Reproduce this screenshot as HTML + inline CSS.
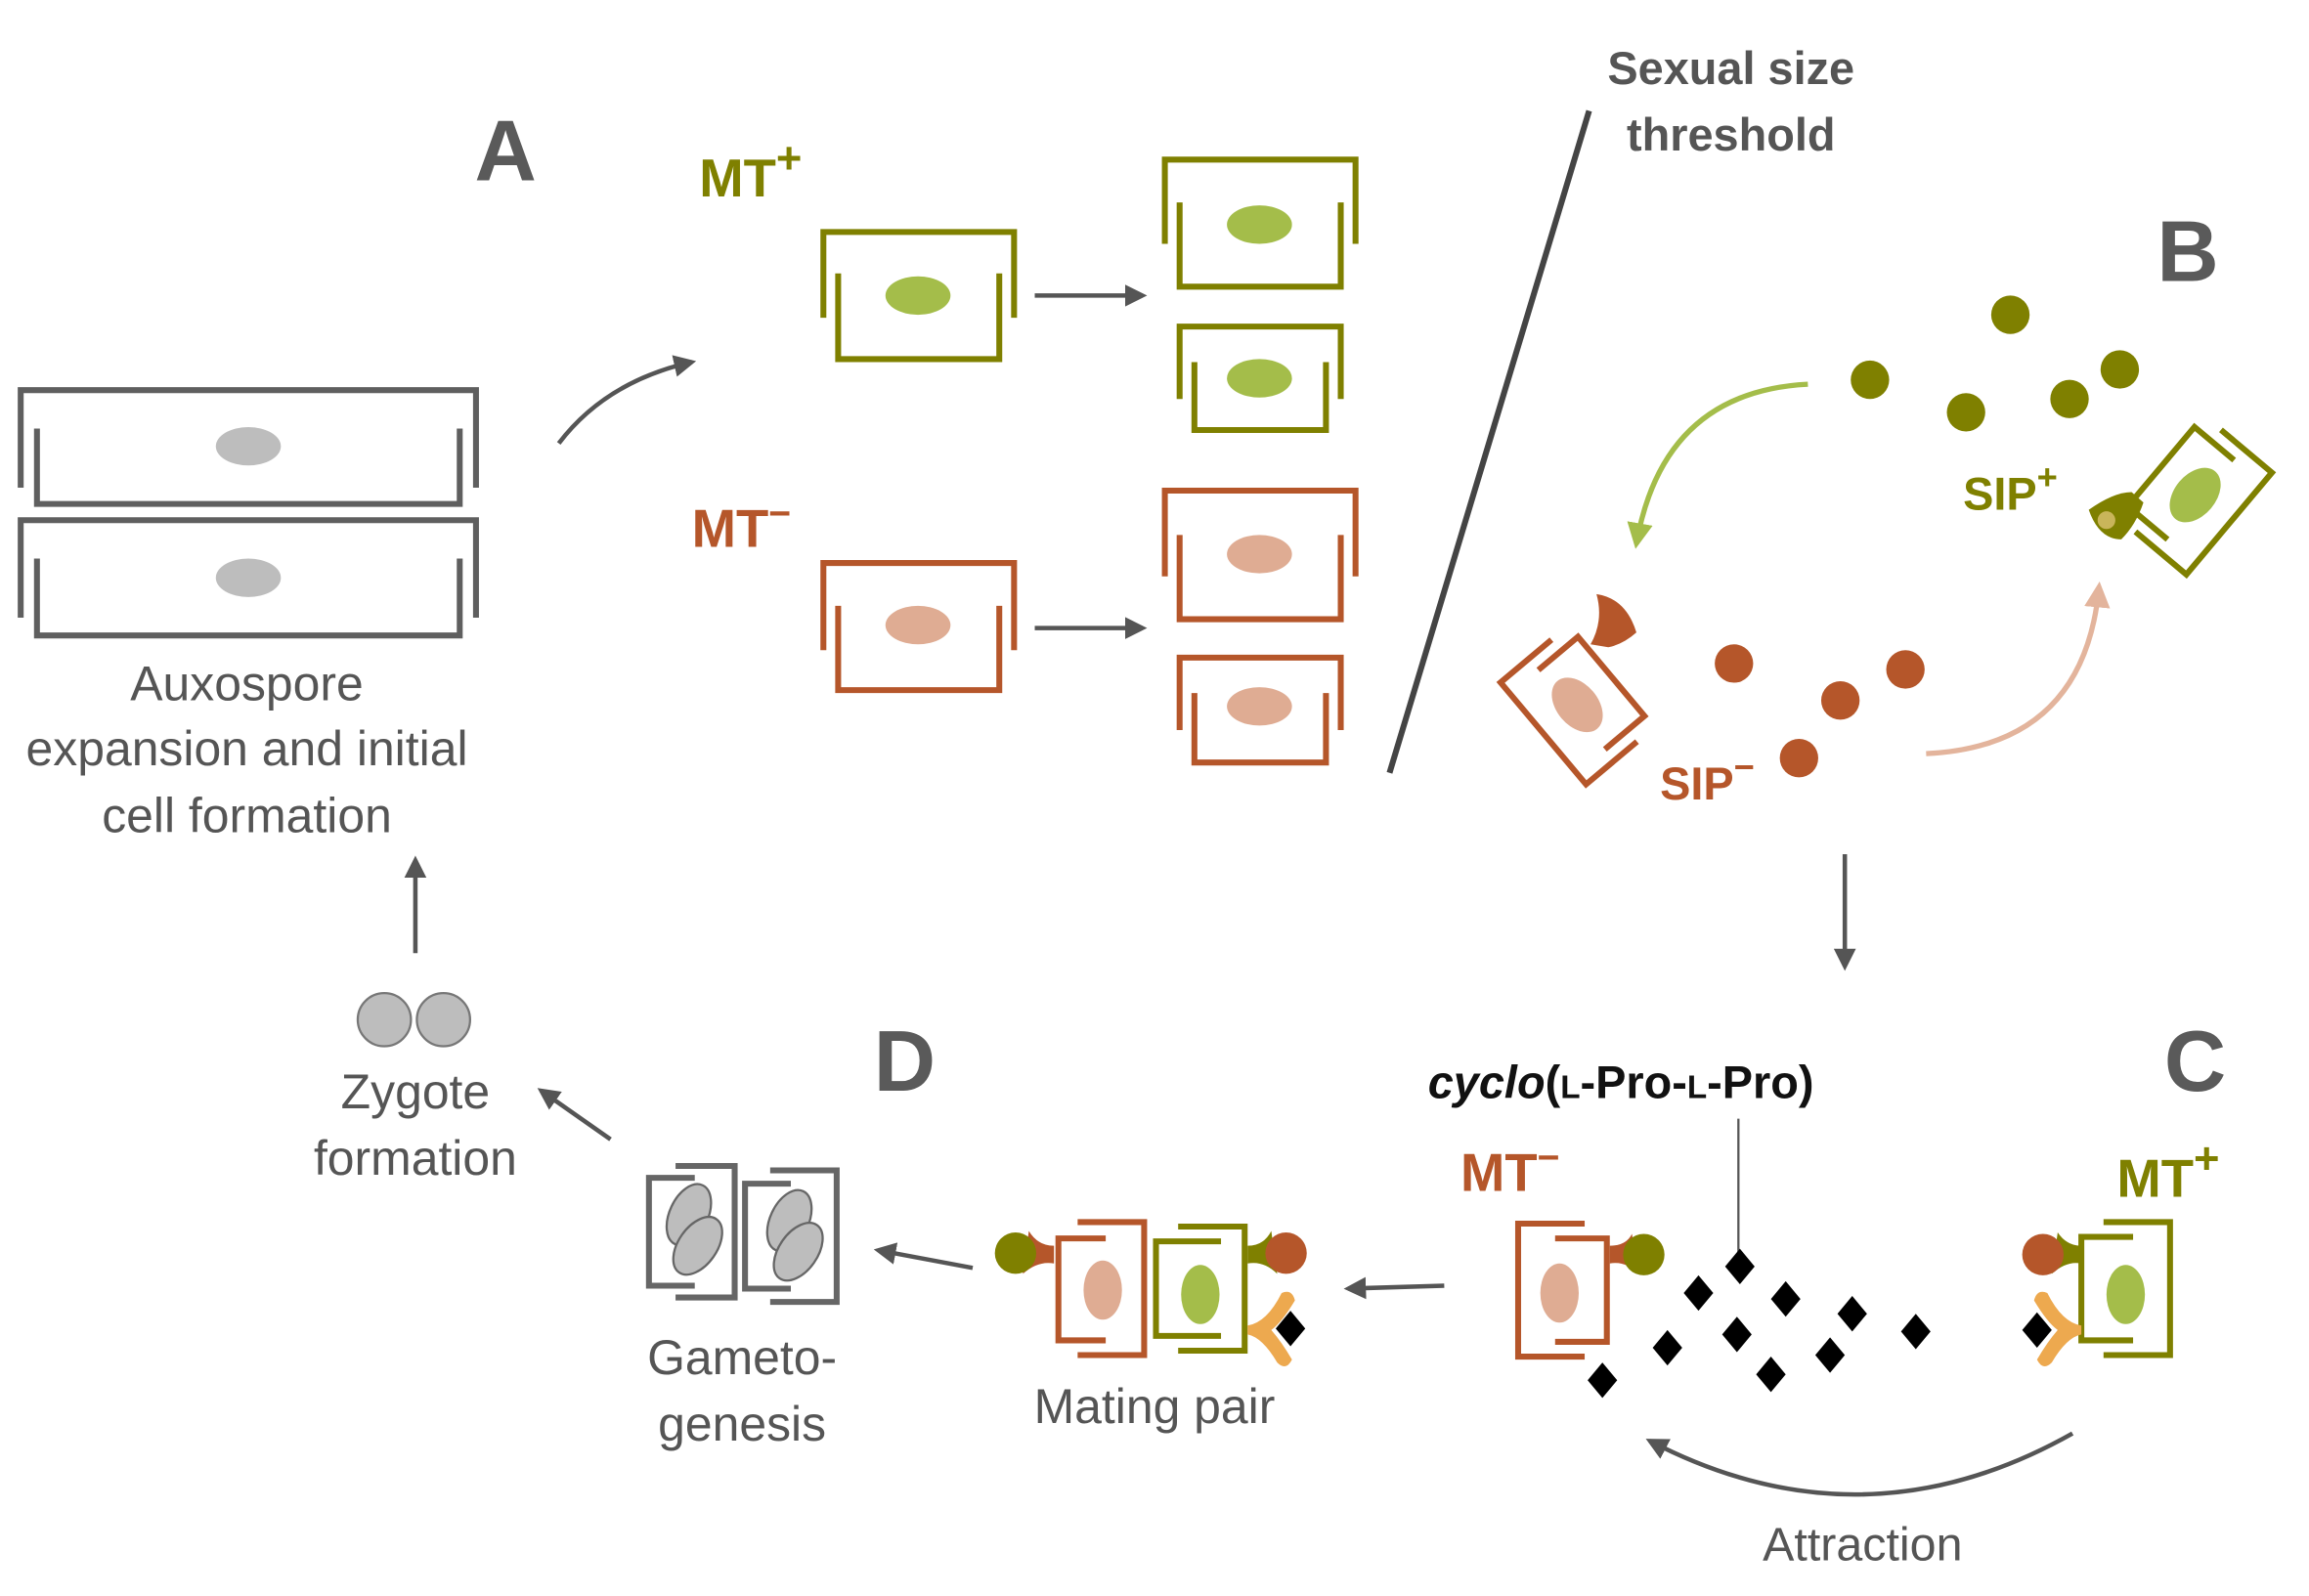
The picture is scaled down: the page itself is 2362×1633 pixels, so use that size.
<!DOCTYPE html>
<html><head><meta charset="utf-8"><style>
html,body{margin:0;padding:0;background:#fff;}
svg{display:block;}
text{font-family:"Liberation Sans",sans-serif;}
</style></head><body>
<svg width="2362" height="1633" viewBox="0 0 1562 1080" preserveAspectRatio="none" xmlns="http://www.w3.org/2000/svg">
<defs>
<marker id="ah" viewBox="0 0 10 10" refX="8" refY="5" markerWidth="5" markerHeight="5" orient="auto"><path d="M0,0 L10,5 L0,10z" fill="#555"/></marker>
<marker id="ahg" viewBox="0 0 10 10" refX="8" refY="5" markerWidth="5" markerHeight="5" orient="auto"><path d="M0,0 L10,5 L0,10z" fill="#a4bd4a"/></marker>
<marker id="ahp" viewBox="0 0 10 10" refX="8" refY="5" markerWidth="5" markerHeight="5" orient="auto"><path d="M0,0 L10,5 L0,10z" fill="#e3b49c"/></marker>
<g id="vcell" fill="none" stroke-width="4">
<path d="M15,-45 H-30 V45 H15"/><path d="M-5,-35 H30 V35 H-5"/>
</g>
<path id="dia" d="M0,-12 L10,0 L0,12 L-10,0z" fill="#000"/>
</defs>

<!-- Auxospore -->
<g fill="none" stroke="#5f5f5f" stroke-width="4">
<path d="M14,330 V264 H322 V330"/><path d="M25,290 V341 H311 V290"/>
<path d="M14,418 V352 H322 V418"/><path d="M25,378 V430 H311 V378"/>
</g>
<ellipse cx="168" cy="302" rx="22" ry="13" fill="#bdbdbd"/>
<ellipse cx="168" cy="391" rx="22" ry="13" fill="#bdbdbd"/>
<g font-size="33" fill="#555" text-anchor="middle">
<text x="167" y="474">Auxospore</text>
<text x="167" y="518">expansion and initial</text>
<text x="167" y="563">cell formation</text>
</g>

<text x="342" y="122" font-size="58" font-weight="bold" fill="#5a5a5a" text-anchor="middle">A</text>
<text x="1480" y="190" font-size="58" font-weight="bold" fill="#5a5a5a" text-anchor="middle">B</text>
<text x="1485" y="738" font-size="58" font-weight="bold" fill="#5a5a5a" text-anchor="middle">C</text>
<text x="612" y="738" font-size="58" font-weight="bold" fill="#5a5a5a" text-anchor="middle">D</text>

<!-- arrows -->
<g stroke="#555" stroke-width="3" fill="none" marker-end="url(#ah)">
<path d="M378,300 Q410,258 468,245"/>
<path d="M700,200 H773"/><path d="M700,425 H773"/>
<path d="M1248,578 V654"/>
<path d="M977,870 L912,872"/>
<path d="M658,858 L594,846"/>
<path d="M413,771 L366,738"/>
<path d="M281,645 V582"/>
<path d="M1402,970 Q1260,1050 1116,975"/>
</g>
<path d="M1223,260 Q1125,265 1107,368" stroke="#a4bd4a" stroke-width="3.5" fill="none" marker-end="url(#ahg)"/>
<path d="M1303,510 Q1410,505 1420,397" stroke="#e3b49c" stroke-width="3.5" fill="none" marker-end="url(#ahp)"/>

<line x1="1075" y1="75" x2="940" y2="523" stroke="#444" stroke-width="4"/>
<g font-size="31" fill="#555" text-anchor="middle" font-weight="bold">
<text x="1171" y="57">Sexual size</text>
<text x="1171" y="102">threshold</text>
</g>

<!-- A cells -->
<g fill="none" stroke="#7f8000" stroke-width="4">
<path d="M557,215 V157 H686 V215"/><path d="M567,185 V243 H676 V185"/>
<path d="M788,165 V108 H917 V165"/><path d="M798,137 V194 H907 V137"/>
<path d="M798,270 V221 H907 V270"/><path d="M808,245 V291 H897 V245"/>
</g>
<g fill="#a4bd4a">
<ellipse cx="621" cy="200" rx="22" ry="13"/><ellipse cx="852" cy="152" rx="22" ry="13"/><ellipse cx="852" cy="256" rx="22" ry="13"/>
</g>
<g fill="none" stroke="#b5562a" stroke-width="4">
<path d="M557,440 V381 H686 V440"/><path d="M567,410 V467 H676 V410"/>
<path d="M788,390 V332 H917 V390"/><path d="M798,362 V419 H907 V362"/>
<path d="M798,494 V445 H907 V494"/><path d="M808,469 V516 H897 V469"/>
</g>
<g fill="#dfac93">
<ellipse cx="621" cy="423" rx="22" ry="13"/><ellipse cx="852" cy="375" rx="22" ry="13"/><ellipse cx="852" cy="478" rx="22" ry="13"/>
</g>
<text x="473" y="133" font-size="36" font-weight="bold" fill="#7f8000">MT<tspan dy="-16" font-size="30">+</tspan></text>
<text x="468" y="370" font-size="36" font-weight="bold" fill="#b5562a">MT<tspan dy="-14" font-size="26">−</tspan></text>

<!-- B -->
<g fill="#7f8000">
<circle cx="1265" cy="257" r="13"/><circle cx="1360" cy="213" r="13"/><circle cx="1330" cy="279" r="13"/><circle cx="1400" cy="270" r="13"/><circle cx="1434" cy="250" r="13"/>
</g>
<g fill="#b5562a">
<circle cx="1173" cy="449" r="13"/><circle cx="1245" cy="474" r="13"/><circle cx="1289" cy="453" r="13"/><circle cx="1217" cy="513" r="13"/>
</g>
<g transform="translate(1067,477) rotate(-40)">
<use href="#vcell" stroke="#b5562a"/>
<ellipse cx="0" cy="0" rx="14" ry="21" fill="#dfac93"/>
</g>
<path d="M1076,436 Q1085,420 1080,402 Q1100,405 1107,428 Q1098,436 1088,438z" fill="#b5562a"/>
<g transform="translate(1485,335) rotate(40) scale(-1,1)">
<use href="#vcell" stroke="#7f8000"/>
<ellipse cx="0" cy="0" rx="14" ry="21" fill="#a4bd4a"/>
</g>
<path d="M1442,333 Q1430,333 1413,345 Q1420,365 1435,365 Q1445,355 1450,340z" fill="#7f8000"/>
<circle cx="1425" cy="352" r="6" fill="#c9b55a"/>
<text x="1328" y="345" font-size="31" font-weight="bold" fill="#7f8000">SIP<tspan dy="-14" font-size="24">+</tspan></text>
<text x="1123" y="541" font-size="31" font-weight="bold" fill="#b5562a">SIP<tspan dy="-14" font-size="24">−</tspan></text>

<!-- C -->
<text x="966" y="743" font-size="31" font-weight="bold" fill="#111"><tspan font-style="italic">cyclo</tspan>(<tspan font-size="22">L</tspan>-Pro-<tspan font-size="22">L</tspan>-Pro)</text>
<line x1="1176" y1="757" x2="1176" y2="848" stroke="#555" stroke-width="1.5"/>
<text x="988" y="806" font-size="36" font-weight="bold" fill="#b5562a">MT<tspan dy="-14" font-size="26">−</tspan></text>
<text x="1432" y="810" font-size="36" font-weight="bold" fill="#7f8000">MT<tspan dy="-16" font-size="30">+</tspan></text>
<g transform="translate(1057,873)"><use href="#vcell" stroke="#b5562a"/></g>
<ellipse cx="1055" cy="875" rx="13" ry="20" fill="#dfac93"/>
<path d="M1089,843 Q1100,843 1104,835 L1108,862 Q1100,853 1089,855z" fill="#b5562a"/>
<circle cx="1112" cy="849" r="14" fill="#7f8000"/>
<g transform="translate(1438,872) scale(-1,1)"><use href="#vcell" stroke="#7f8000"/></g>
<ellipse cx="1438" cy="876" rx="13" ry="20" fill="#a4bd4a"/>
<path d="M1408,843 Q1398,843 1392,834 L1388,862 Q1398,853 1408,855z" fill="#7f8000"/>
<circle cx="1382" cy="849" r="14" fill="#b5562a"/>
<path d="M1408,897 Q1395,895 1385,875 Q1378,872 1376,880 Q1385,895 1392,900 Q1385,908 1378,920 Q1382,928 1388,922 Q1398,905 1408,903z" fill="#eda94f"/>
<g>
<use href="#dia" x="1177" y="857"/><use href="#dia" x="1149" y="875"/><use href="#dia" x="1208" y="879"/><use href="#dia" x="1253" y="889"/><use href="#dia" x="1296" y="901"/><use href="#dia" x="1175" y="903"/><use href="#dia" x="1128" y="912"/><use href="#dia" x="1238" y="917"/><use href="#dia" x="1198" y="930"/><use href="#dia" x="1084" y="934"/><use href="#dia" x="1378" y="900"/>
</g>
<text x="1260" y="1056" font-size="32" fill="#555" text-anchor="middle">Attraction</text>

<!-- Mating pair -->
<g fill="none" stroke-width="4">
<path d="M729,827 H774 V917 H729" stroke="#b5562a"/><path d="M748,838 H716 V907 H748" stroke="#b5562a"/>
<path d="M797,830 H842 V914 H797" stroke="#7f8000"/><path d="M826,840 H782 V904 H826" stroke="#7f8000"/>
</g>
<ellipse cx="746" cy="873" rx="13" ry="20" fill="#dfac93"/>
<ellipse cx="812" cy="876" rx="13" ry="20" fill="#a4bd4a"/>
<path d="M713,843 Q702,843 696,833 L692,862 Q702,853 713,855z" fill="#b5562a"/>
<circle cx="687" cy="848" r="14" fill="#7f8000"/>
<path d="M844,843 Q855,843 860,833 L864,862 Q855,853 844,855z" fill="#7f8000"/>
<circle cx="870" cy="848" r="14" fill="#b5562a"/>
<path d="M844,897 Q857,895 867,875 Q874,872 876,880 Q867,895 860,900 Q867,908 874,920 Q870,928 864,922 Q854,905 844,903z" fill="#eda94f"/>
<use href="#dia" x="873" y="899"/>
<text x="781" y="963" font-size="33" fill="#555" text-anchor="middle">Mating pair</text>

<!-- Gametogenesis -->
<g fill="none" stroke="#666" stroke-width="4">
<path d="M457,789 H497 V878 H457"/><path d="M470,797 H439 V870 H470"/>
<path d="M521,792 H566 V881 H521"/><path d="M535,801 H504 V872 H535"/>
</g>
<g fill="#bdbdbd" stroke="#666" stroke-width="1.5">
<ellipse cx="466" cy="822" rx="13" ry="22" transform="rotate(25 466 822)"/>
<ellipse cx="472" cy="843" rx="13" ry="22" transform="rotate(35 472 843)"/>
<ellipse cx="534" cy="826" rx="13" ry="22" transform="rotate(25 534 826)"/>
<ellipse cx="540" cy="847" rx="13" ry="22" transform="rotate(35 540 847)"/>
</g>
<g font-size="33" fill="#555" text-anchor="middle">
<text x="502" y="930">Gameto-</text>
<text x="502" y="975">genesis</text>
</g>

<!-- Zygote -->
<circle cx="260" cy="690" r="18" fill="#bdbdbd" stroke="#777" stroke-width="1.5"/>
<circle cx="300" cy="690" r="18" fill="#bdbdbd" stroke="#777" stroke-width="1.5"/>
<g font-size="33" fill="#555" text-anchor="middle">
<text x="281" y="750">Zygote</text>
<text x="281" y="795">formation</text>
</g>
</svg>
</body></html>
